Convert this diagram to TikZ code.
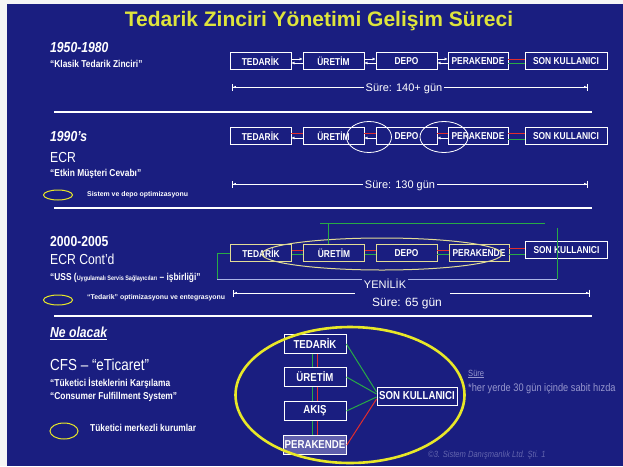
\documentclass[tikz,border=0pt]{standalone}
\usepackage{fontspec}
\setmainfont{Liberation Sans}
\newfontfamily\nar[FakeStretch=0.84]{Liberation Sans}
\newcommand\fsz[1]{\fontsize{#1}{#1}\selectfont}
\usetikzlibrary{arrows.meta,positioning,shapes.geometric}
\definecolor{slide}{RGB}{26,30,128}
\definecolor{ttl}{RGB}{222,228,60}
\definecolor{ylw}{RGB}{232,232,40}
\definecolor{khaki}{RGB}{226,220,150}
\definecolor{lgreen}{RGB}{40,170,70}
\definecolor{lred}{RGB}{225,45,45}
\definecolor{faint}{RGB}{150,150,205}
\definecolor{haze}{RGB}{170,180,230}
\definecolor{lilac}{RGB}{95,95,172}

\begin{document}
\begin{tikzpicture}[x=1pt,y=-1pt,>={Latex[length=3pt,width=3pt]},
 box/.style={draw=white,line width=.9pt,fill=slide,text=white,font=\nar\bfseries\fsz{10},minimum width=61pt,minimum height=17pt,inner sep=1pt},
 endbox/.style={box,minimum width=82pt},
 goldbox/.style={box,draw=khaki},
 bigbox/.style={box,font=\nar\bfseries\fsz{11.5},minimum width=62pt,minimum height=19pt},
 txt/.style={text=white,anchor=west,inner sep=0pt},
 year/.style={txt,font=\nar\bfseries\itshape\fsz{14.5}},
 head/.style={txt,font=\nar\fsz{14.5}},
 note/.style={txt,font=\nar\bfseries\fsz{10}},
 tiny/.style={txt,font=\bfseries\fsz{6.9}},
 oval/.style={draw=ylw,ellipse,line width=1pt,minimum width=29pt,minimum height=10pt,inner sep=0pt},
 ring/.style={draw=white,ellipse,line width=.8pt,inner sep=0pt},
 sep/.style={white,line width=1.1pt},
 dim/.style={white,line width=.8pt},
 dur/.style={text=white,font=\fsz{11},inner sep=2pt},
 gline/.style={lgreen,line width=1pt},
 rline/.style={lred,line width=1pt},
 frame/.style={haze,line width=.8pt}]
\useasboundingbox (0,0) rectangle (623,466);
\fill[white!92!gray] (0,0) rectangle (623,466);
\fill[slide] (7,4) rectangle (623,466);

\node[font=\bfseries\fsz{21},text=ttl] (title) at (319,21) {Tedarik Zinciri Yönetimi Gelişim Süreci};

\node[year] (y1) at (50,48) {1950-1980};
\node[note] (k1) at (50,64) {“Klasik Tedarik Zinciri”};
\node[box] (t1) at (260.5,61) {TEDARİK};
\node[box] (u1) at (333.5,61) {ÜRETİM};
\node[box] (d1) at (406.5,61) {DEPO};
\node[box,minimum width=60pt] (p1) at (478,61) {PERAKENDE};
\node[endbox] (s1) at (566,61) {SON KULLANICI};
\draw[->,white] ([yshift=2pt]t1.east) -- ([yshift=2pt]u1.west);
\draw[->,white] ([yshift=-2pt]u1.west) -- ([yshift=-2pt]t1.east);
\draw[->,white] ([yshift=2pt]u1.east) -- ([yshift=2pt]d1.west);
\draw[->,white] ([yshift=-2pt]d1.west) -- ([yshift=-2pt]u1.east);
\draw[->,white] ([yshift=2pt]d1.east) -- ([yshift=2pt]p1.west);
\draw[->,white] ([yshift=-2pt]p1.west) -- ([yshift=-2pt]d1.east);
\draw[rline] ([yshift=2pt]p1.east) -- ([yshift=2pt]s1.west);
\draw[gline] ([yshift=-2pt]p1.east) -- ([yshift=-2pt]s1.west);
\coordinate (a1) at (232,87);
\coordinate (b1) at (588,87);
\node[dur] (z1) at (404,89) {Süre: 140+ gün};
\draw[dim,{Bar[width=7pt]Latex[length=3pt]}-] (a1) -- (a1 -| z1.west);
\draw[dim,-{Latex[length=3pt]Bar[width=7pt]}] (z1.east |- b1) -- (b1);
\draw[sep] (54,112) -- (592,112);

\node[year] (y2) at (50,137) {1990’s};
\node[head] (e2) at (50,158) {ECR};
\node[note] (k2) at (50,174) {“Etkin Müşteri Cevabı”};
\node[oval] (o2) at (58,195) {};
\node[tiny] (m2) at (87,195) {Sistem ve depo optimizasyonu};
\node[box] (t2) at (260.5,136) {TEDARİK};
\node[box] (u2) at (333.5,136) {ÜRETİM};
\node[box] (d2) at (406.5,136) {DEPO};
\node[box,minimum width=60pt] (p2) at (478,136) {PERAKENDE};
\node[endbox] (s2) at (566,136) {SON KULLANICI};
\draw[rline] ([yshift=3pt]t2.east) -- ([yshift=3pt]u2.west);
\draw[->,white] ([yshift=-2pt]u2.west) -- ([yshift=-2pt]t2.east);
\draw[rline] ([yshift=3pt]u2.east) -- ([yshift=3pt]d2.west);
\draw[->,white] ([yshift=-2pt]d2.west) -- ([yshift=-2pt]u2.east);
\draw[rline] ([yshift=3pt]d2.east) -- ([yshift=3pt]p2.west);
\draw[->,white] ([yshift=-2pt]p2.west) -- ([yshift=-2pt]d2.east);
\draw[rline] ([yshift=3pt]p2.east) -- ([yshift=3pt]s2.west);
\draw[gline] ([yshift=-3pt]p2.east) -- ([yshift=-3pt]s2.west);
\node[ring,minimum width=45pt,minimum height=31pt] (r1) at (369,137) {};
\node[ring,minimum width=48pt,minimum height=31pt] (r2) at (444,137) {};
\coordinate (a2) at (232,184);
\coordinate (b2) at (588,184);
\node[dur] (z2) at (400,186) {Süre: 130 gün};
\draw[dim,{Bar[width=7pt]Latex[length=3pt]}-] (a2) -- (a2 -| z2.west);
\draw[dim,-{Latex[length=3pt]Bar[width=7pt]}] (z2.east |- b2) -- (b2);
\draw[sep] (54,208) -- (592,208);

\node[txt,font=\nar\bfseries\fsz{14.5}] (y3) at (50,242) {2000-2005};
\node[head] (e3) at (50,259) {ECR Cont’d};
\node[txt,font=\nar\bfseries\fsz{10}] (k3) at (50,278) {“USS ({\fsz{6.5}Uygulamalı Servis Sağlayıcıları} – işbirliği”};
\node[oval] (o3) at (58,300) {};
\node[tiny] (m3) at (87,298) {“Tedarik” optimizasyonu ve entegrasyonu};
\node[goldbox] (t3) at (261,253) {TEDARİK};
\node[goldbox] (u3) at (334,253) {ÜRETİM};
\node[goldbox] (d3) at (406.5,253) {DEPO};
\node[goldbox,minimum width=60pt] (p3) at (479,253) {PERAKENDE};
\node[endbox] (s3) at (566.5,250) {SON KULLANICI};
\draw[rline] ([yshift=3pt]t3.east) -- ([yshift=3pt]u3.west);
\draw[gline] ([yshift=-1pt]t3.east) -- ([yshift=-1pt]u3.west);
\draw[rline] ([yshift=3pt]u3.east) -- ([yshift=3pt]d3.west);
\draw[gline] ([yshift=-1pt]u3.east) -- ([yshift=-1pt]d3.west);
\draw[rline] ([yshift=3pt]d3.east) -- ([yshift=3pt]p3.west);
\draw[gline] ([yshift=-1pt]d3.east) -- ([yshift=-1pt]p3.west);
\draw[rline] ([yshift=5pt]p3.east) -- ([yshift=2pt]s3.west);
\draw[gline] ([yshift=-1pt]p3.east) -- ([yshift=-4pt]s3.west);
\node[ring,draw=khaki,line width=1pt,minimum width=240pt,minimum height=32pt] (r3) at (382,254) {};
\coordinate (fl) at (217,279);
\coordinate (fr) at (557,279);
\coordinate (ft) at (557,228);
\coordinate (tl) at (320,223);
\coordinate (tr) at (545,223);
\coordinate (tk) at (328,223);
\draw[gline] (t3.west) -- (t3.west -| fl) -- (fl);
\draw[gline] (ft) -- (fr);
\draw[gline] (tl) -- (tr);
\draw[gline] (tk) -- (tk |- u3.north);
\node[dur] (yen) at (385,284) {YENİLİK};
\draw[frame] (fl) -- (fl -| yen.west);
\draw[frame] (fr -| yen.east) -- (fr);
\coordinate (a3) at (233,293);
\coordinate (b3) at (590,293);
\coordinate (g3) at (355,293);
\coordinate (h3) at (450,293);
\draw[dim,{Bar[width=7pt]Latex[length=3pt]}-] (a3) -- (g3);
\draw[dim,-{Latex[length=3pt]Bar[width=7pt]}] (h3) -- (b3);
\node[dur,font=\fsz{12}] (z3) at (407,304) {Süre: 65 gün};
\draw[sep] (54,316) -- (592,316);

\node[year] (y4) at (50,333) {\underline{Ne olacak}};
\node[txt,font=\nar\fsz{16}] (c4) at (50,365) {CFS – “eTicaret”};
\node[note] (k4) at (50,383) {“Tüketici İsteklerini Karşılama};
\node[note] (n4) at (50,397) {“Consumer Fulfillment System”};
\node[oval,minimum width=28pt,minimum height=16pt] (o4) at (64,431) {};
\node[note] (m4) at (90,428) {Tüketici merkezli kurumlar};
\node[bigbox] (t4) at (315,344) {TEDARİK};
\node[bigbox] (u4) at (315,377) {ÜRETİM};
\node[bigbox] (a4) at (315,411) {AKIŞ};
\node[bigbox,fill=lilac] (p4) at (315,445) {PERAKENDE};
\node[bigbox,minimum width=80pt,minimum height=18pt] (s4) at (417,396) {SON KULLANICI};
\draw[gline] ([xshift=-2.5pt]t4.south) -- ([xshift=-2.5pt]u4.north);
\draw[rline] ([xshift=2.5pt]t4.south) -- ([xshift=2.5pt]u4.north);
\draw[gline] ([xshift=-2.5pt]u4.south) -- ([xshift=-2.5pt]a4.north);
\draw[rline] ([xshift=2.5pt]u4.south) -- ([xshift=2.5pt]a4.north);
\draw[gline] ([xshift=-2.5pt]a4.south) -- ([xshift=-2.5pt]p4.north);
\draw[rline] ([xshift=2.5pt]a4.south) -- ([xshift=2.5pt]p4.north);
\draw[gline] (t4.east) -- ([yshift=4pt]s4.west);
\draw[gline] (u4.east) -- ([yshift=2pt]s4.west);
\draw[gline] (a4.east) -- ([yshift=-1pt]s4.west);
\draw[rline] (p4.east) -- ([yshift=-3pt]s4.west);
\node[draw=ylw,ellipse,line width=2.6pt,minimum width=229pt,minimum height=136pt] (big) at (350,395) {};
\node[txt,font=\nar\fsz{9},text=faint] (sr) at (468,374) {\underline{Süre}};
\node[txt,font=\nar\fsz{11},text=faint] (sn) at (468,389) {*her yerde 30 gün içinde sabit hızda};
\node[txt,font=\nar\itshape\fsz{9},text=faint!60!slide] (ft4) at (428,455) {©3. Sistem Danışmanlık Ltd. Şti. 1};
\end{tikzpicture}
\end{document}
